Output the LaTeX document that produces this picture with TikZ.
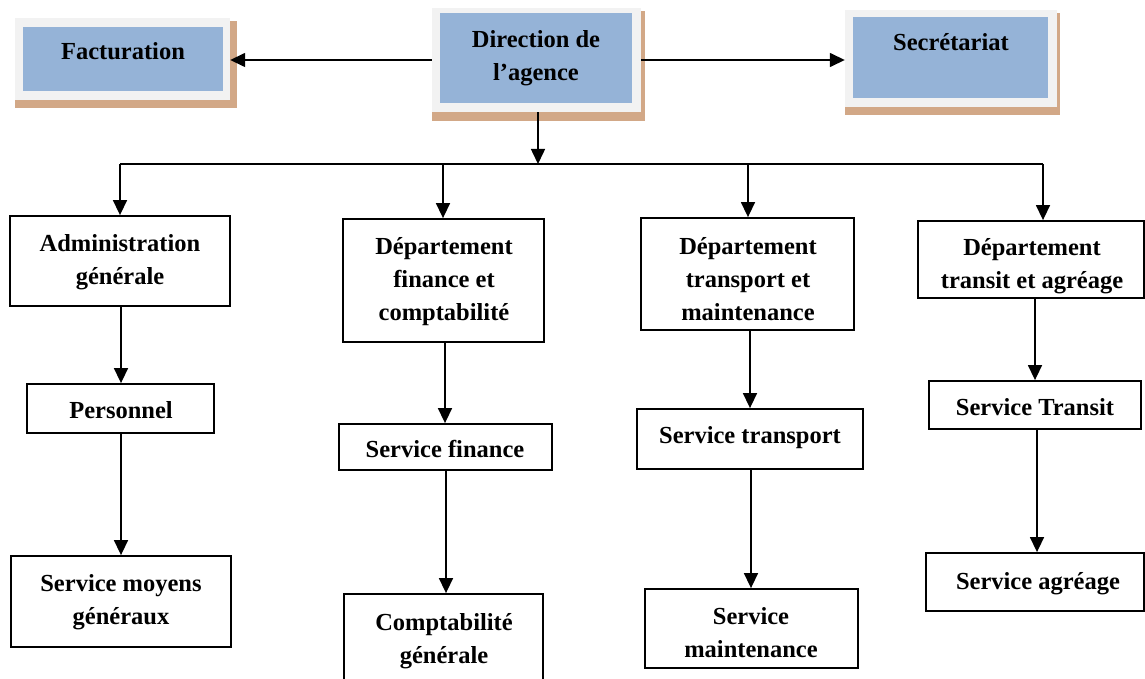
\documentclass[tikz,border=0pt]{standalone}
\usepackage{fontspec}
\setmainfont{Liberation Serif}
\usetikzlibrary{arrows.meta}
\definecolor{boxblue}{RGB}{149,179,215}
\definecolor{boxgray}{RGB}{242,242,242}
\definecolor{boxtan}{RGB}{210,168,135}
\newcommand{\txtlines}[1]{\begin{tabular}[t]{@{}c@{}}#1\end{tabular}}
\tikzset{
  orgbox/.style 2 args={draw=black, line width=1.8bp, fill=white, inner sep=0pt,
    minimum width=#1, minimum height=#2},
  graybox/.style 2 args={fill=boxgray, inner sep=0pt, minimum width=#1, minimum height=#2},
  bluebox/.style 2 args={fill=boxblue, inner sep=0pt, minimum width=#1, minimum height=#2},
  shadowbox/.style={fill=boxtan},
  txt/.style={inner sep=0pt, anchor=base, font=\fontsize{24.5bp}{33bp}\selectfont\bfseries},
  arr/.style={-{Triangle[length=15bp,width=14bp]}, line width=1.5bp},
  plain/.style={line width=1.5bp}
}
\begin{document}
\begin{tikzpicture}[x=1bp,y=-1bp]
\useasboundingbox (0,0) rectangle (1145,679);
\clip (0,0) rectangle (1145,679);
\fill[white] (0,0) rectangle (1145,679);

% ---- top row with shadows ----
\fill[shadowbox] (15,21) rectangle (237,108);
\node[graybox={215bp}{82bp}] (fac) at (122.5,59) {};
\node[bluebox={200bp}{64bp}] (facIn) at (123,59) {};
\node[txt] (facT) at (123,60) {Facturation};

\fill[shadowbox] (432,11) rectangle (645,121);
\node[graybox={209bp}{104bp}] (dir) at (536.5,60) {};
\node[bluebox={192bp}{90bp}] (dirIn) at (536,58) {};
\node[txt] (dirT) at (536,48) {\txtlines{Direction de\\l’agence}};

\fill[shadowbox] (845,13) rectangle (1060,115);
\node[graybox={212bp}{97bp}] (sec) at (951,58.5) {};
\node[bluebox={195bp}{81bp}] (secIn) at (950.5,57.5) {};
\node[txt] (secT) at (951,51) {Secrétariat};

% ---- level 1 ----
\node[orgbox={220bp}{90bp}] (adm) at (120,261) {};
\node[orgbox={201bp}{123bp}] (fin) at (443.5,280.5) {};
\node[orgbox={213bp}{112bp}] (tra) at (747.5,274) {};
\node[orgbox={226bp}{77bp}] (trs) at (1031,259.5) {};
\node[txt] (admT) at (120,251) {\txtlines{Administration\\générale}};
\node[txt] (finT) at (444,254) {\txtlines{Département\\finance et\\comptabilité}};
\node[txt] (traT) at (748,254) {\txtlines{Département\\transport et\\maintenance}};
\node[txt] (trsT) at (1032,255) {\txtlines{Département\\transit et agréage}};

% ---- level 2 ----
\node[orgbox={187bp}{49bp}] (per) at (120.5,408.5) {};
\node[orgbox={213bp}{46bp}] (sfi) at (445.5,447) {};
\node[orgbox={226bp}{60bp}] (str) at (750,439) {};
\node[orgbox={212bp}{48bp}] (stt) at (1035,405) {};
\node[txt] (perT) at (121,418) {Personnel};
\node[txt] (sfiT) at (445,457) {Service finance};
\node[txt] (strT) at (750,443) {Service transport};
\node[txt] (sttT) at (1035,415) {Service Transit};

% ---- level 3 ----
\node[orgbox={220bp}{91bp}] (smg) at (121,601.5) {};
\node[orgbox={199bp}{96bp}] (cpt) at (443.5,642) {};
\node[orgbox={213bp}{79bp}] (smt) at (751.5,628.5) {};
\node[orgbox={218bp}{58bp}] (sag) at (1035,582) {};
\node[txt] (smgT) at (121,591) {\txtlines{Service moyens\\généraux}};
\node[txt] (cptT) at (444,630) {\txtlines{Comptabilité\\générale}};
\node[txt] (smtT) at (751,624) {\txtlines{Service\\maintenance}};
\node[txt] (sagT) at (1038,589) {Service agréage};

% ---- connectors ----
\draw[arr] (dir.west) -- (fac.east |- dir.west);
\draw[arr] (dir.east) -- (sec.west |- dir.east);
\coordinate (bus) at (538,164);
\coordinate (busL) at (120,164);
\coordinate (busR) at (1043,164);
\draw[arr] (dir.south -| bus) -- (bus);
\draw[plain] (busL) -- (busR);
\draw[arr] (busL) -- (adm.north -| busL);
\draw[arr] (443,164) -- (fin.north -| 443,0);
\draw[arr] (748,164) -- (tra.north -| 748,0);
\draw[arr] (busR) -- (trs.north -| busR);

\draw[arr] (adm.south -| 121,0) -- (per.north -| 121,0);
\draw[arr] (fin.south -| 445,0) -- (sfi.north -| 445,0);
\draw[arr] (tra.south -| 750,0) -- (str.north -| 750,0);
\draw[arr] (trs.south -| 1035,0) -- (stt.north -| 1035,0);

\draw[arr] (per.south -| 121,0) -- (smg.north -| 121,0);
\draw[arr] (sfi.south -| 446,0) -- (cpt.north -| 446,0);
\draw[arr] (str.south -| 751,0) -- (smt.north -| 751,0);
\draw[arr] (stt.south -| 1037,0) -- (sag.north -| 1037,0);
\end{tikzpicture}
\end{document}
